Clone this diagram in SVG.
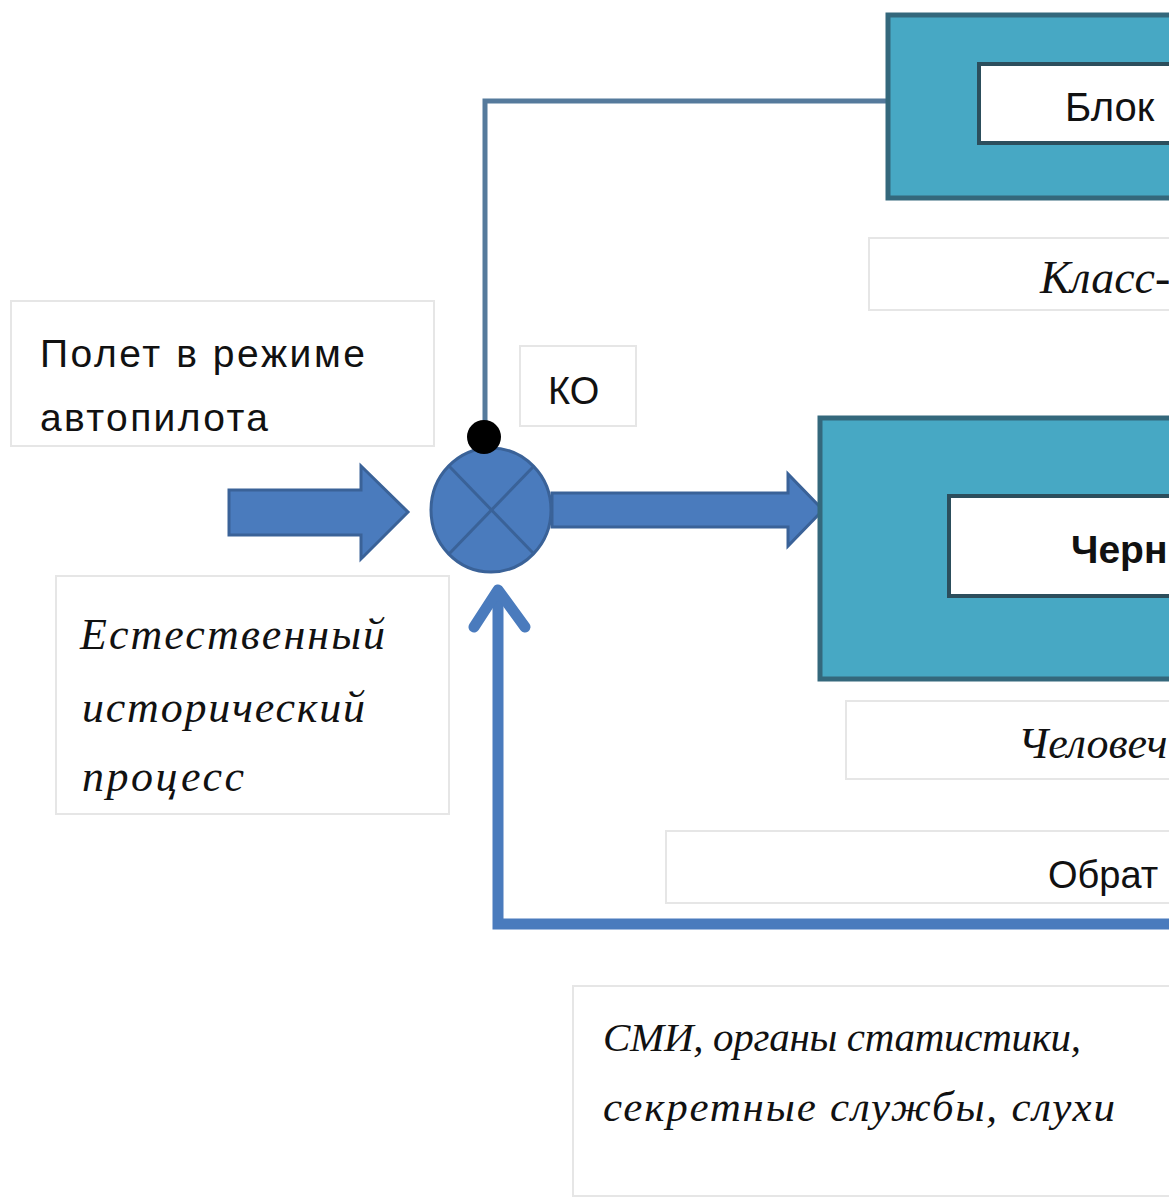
<svg xmlns="http://www.w3.org/2000/svg" width="1169" height="1201" viewBox="0 0 1169 1201">
<style>
.tb{fill:#ffffff;stroke:#e6e6e6;stroke-width:2}
.outer{fill:#47a8c4;stroke:#34687c;stroke-width:5}
.inner{fill:#ffffff;stroke:#2c4e5c;stroke-width:4}
.sans{font-family:"Liberation Sans","Open Sans",Arial,sans-serif;fill:#111}
.ital{font-family:"Liberation Serif","Times New Roman",serif;font-style:italic;fill:#111}
.blue{fill:#4a7bbd;stroke:#3a6298;stroke-width:3}
.line{fill:none;stroke:#4a7bbd;stroke-linejoin:miter}
</style>
<rect width="1169" height="1201" fill="#ffffff"/>
<g id="connectors">
  <polyline class="line" points="888,101 485,101 485,425" style="stroke:#557a9c;stroke-width:5"/>
  <polyline class="line" points="1169,924 498,924 498,592" style="stroke-width:11"/>
  <polyline class="line" points="474,627 498,590 525,627" style="stroke-width:11;stroke-linecap:round;stroke-linejoin:round"/>
  <polygon class="blue" points="229,490 361,490 361,466 408,512 361,559 361,535 229,535"/>
  <polygon class="blue" points="552,493 788,493 788,474 823,510 788,546 788,527 552,527"/>
</g>
<g id="block-top">
  <rect class="outer" x="888" y="15" width="300" height="183"/>
  <rect class="inner" x="979" y="64" width="220" height="79"/>
  <text class="sans" x="1065" y="121" font-size="40">Блок</text>
</g>
<g id="label-class">
  <rect class="tb" x="869" y="238" width="320" height="72"/>
  <text class="ital" x="1040" y="293" font-size="46">Класс-</text>
</g>
<g id="label-autopilot">
  <rect class="tb" x="11" y="301" width="423" height="145"/>
  <text class="sans" x="40" y="367" font-size="39" textLength="325">Полет в режиме</text>
  <text class="sans" x="40" y="431" font-size="39" textLength="228">автопилота</text>
</g>
<g id="label-ko">
  <rect class="tb" x="520" y="346" width="116" height="80"/>
  <text class="sans" x="548" y="404" font-size="38">КО</text>
</g>
<g id="summator">
  <ellipse class="blue" cx="491" cy="510" rx="60" ry="62"/>
  <line x1="449" y1="466" x2="534" y2="554" stroke="#3a6298" stroke-width="3"/>
  <line x1="534" y1="466" x2="449" y2="554" stroke="#3a6298" stroke-width="3"/>
  <circle cx="484" cy="437" r="17" fill="#000"/>
</g>
<g id="block-middle">
  <rect class="outer" x="820" y="418" width="370" height="261"/>
  <rect class="inner" x="949" y="496" width="250" height="100"/>
  <text class="sans" x="1071" y="563" font-size="39" font-weight="bold">Черн</text>
</g>
<g id="label-human">
  <rect class="tb" x="846" y="701" width="340" height="78"/>
  <text class="ital" x="1018" y="758" font-size="44">Человеч</text>
</g>
<g id="label-natural">
  <rect class="tb" x="56" y="576" width="393" height="238"/>
  <text class="ital" x="80" y="649" font-size="44" textLength="305">Естественный</text>
  <text class="ital" x="82" y="722" font-size="44" textLength="283">исторический</text>
  <text class="ital" x="82" y="791" font-size="44" textLength="162">процесс</text>
</g>
<g id="label-feedback">
  <rect class="tb" x="666" y="831" width="520" height="72"/>
  <text class="sans" x="1048" y="888" font-size="38">Обрат</text>
</g>
<g id="label-media">
  <rect class="tb" x="573" y="986" width="620" height="210"/>
  <text class="ital" x="603" y="1051" font-size="41" textLength="478">СМИ, органы статистики,</text>
  <text class="ital" x="603" y="1121" font-size="43" textLength="512">секретные службы, слухи</text>
</g>
</svg>
